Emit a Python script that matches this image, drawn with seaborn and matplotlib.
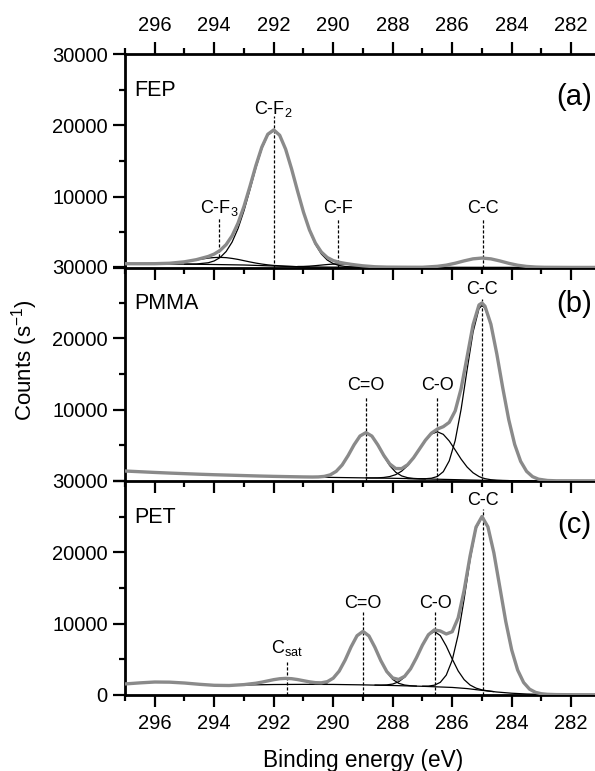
import matplotlib
matplotlib.use("Agg")
import matplotlib.pyplot as plt
import seaborn as sns
from matplotlib.ticker import MultipleLocator

# ---------------- data (eV / counts s^-1) ----------------

# (a) FEP
fep_e = [297, 296.5, 296, 295.5, 295, 294.6, 294.2, 294.0, 293.8, 293.6, 293.4, 293.2,
         293.0, 292.8, 292.6, 292.4, 292.2, 292.0, 291.8, 291.6, 291.4, 291.2, 291.0,
         290.8, 290.6, 290.4, 290.2, 290.0, 289.8, 289.6, 289.4, 289.2, 289.0, 288.6,
         288.2, 287.5, 287.0, 286.5, 286.2, 285.9, 285.6, 285.3, 285.0, 284.7, 284.4,
         284.1, 283.8, 283.5, 283.2, 282.9, 282.0, 281.0]
fep_env = [600, 600, 605, 665, 870, 1170, 1620, 1960, 2475, 3280, 4510, 6290,
           8640, 11430, 14360, 16950, 18750, 19360, 18610, 16655, 13890, 10800, 7830,
           5350, 3500, 2240, 1470, 1040, 800, 645, 515, 405, 305, 175,
           125, 108, 105, 234, 400, 668, 999, 1283, 1395, 1280, 993,
           658, 388, 219, 135, 100, 82, 80]
fep_bg_e = [297, 295, 294, 293, 292, 291, 290, 288, 285, 281]
fep_bg = [600, 540, 490, 420, 280, 160, 120, 110, 95, 80]
fep_cf3_e = [296.0, 295.5, 295.0, 294.6, 294.2, 294.0, 293.8, 293.6, 293.4, 293.2, 293.0,
             292.8, 292.6, 292.4, 292.2, 292.0, 291.6, 291.2, 290.8]
fep_cf3 = [603, 665, 865, 1131, 1388, 1466, 1490, 1452, 1344, 1203, 1027,
           850, 689, 552, 443, 360, 255, 189, 152]
fep_cf2_e = [295.0, 294.6, 294.2, 294.0, 293.8, 293.6, 293.4, 293.2, 293.0, 292.8, 292.6,
             292.4, 292.2, 292.0, 291.8, 291.6, 291.4, 291.2, 291.0, 290.8, 290.6, 290.4,
             290.2, 290.0, 289.8, 289.6, 289.4, 289.0]
fep_cf2 = [545, 564, 736, 992, 1475, 2313, 3632, 5538, 8030, 10972, 14034,
           16736, 18618, 19280, 18566, 16632, 13878, 10764, 7770, 5242, 3314, 1966,
           1113, 615, 349, 218, 157, 120]
fep_cf_e = [291.2, 291.0, 290.8, 290.6, 290.4, 290.2, 290.0, 289.8, 289.6, 289.4, 289.2,
            289.0, 288.8, 288.6, 288.4, 288.2]
fep_cf = [214, 221, 264, 329, 409, 488, 546, 569, 544, 477, 389, 299, 226, 174, 142, 124]
fep_cc_e = [287.0, 286.5, 286.2, 285.9, 285.6, 285.3, 285.0, 284.7, 284.4, 284.1, 283.8,
            283.5, 283.2, 282.9]
fep_cc = [105, 234, 400, 668, 999, 1283, 1395, 1280, 993, 658, 388, 219, 135, 100]
fep_lab = ["C-F$_3$", "C-F$_2$", "C-F", "C-C"]
fep_pos = [293.83, 292.0, 289.85, 284.97]
fep_top = [6950, 21300, 6900, 6950]
fep_bot = [1500, 0, 0, 0]
fep_txt = [7650, 21650, 7650, 7650]

# (b) PMMA
pmma_e = [297, 296.5, 296, 295.5, 295, 294.5, 294, 293.5, 293, 292.5, 292, 291.5, 291,
          290.7, 290.5, 290.3, 290.1, 289.9, 289.7, 289.5, 289.3, 289.1, 288.9,
          288.7, 288.5, 288.3, 288.1, 287.9, 287.7, 287.5, 287.3, 287.1, 286.9,
          286.7, 286.5, 286.3, 286.1, 285.9, 285.7, 285.5, 285.3, 285.1, 285.0,
          284.9, 284.7, 284.5, 284.3, 284.1, 283.9, 283.7, 283.5, 283.3, 283.1,
          282.8, 282.5, 282, 281.5, 281]
pmma_env = [1400, 1300, 1200, 1110, 1030, 950, 880, 820, 760, 700, 650, 610, 573,
            559, 573, 647, 863, 1353, 2247, 3563, 5068, 6307, 6787,
            6295, 5057, 3589, 2388, 1750, 1736, 2276, 3257, 4488, 5723,
            6699, 7282, 7617, 8224, 9831, 12971, 17399, 21894, 24679, 24956,
            24511, 21980, 17797, 13024, 8608, 5128, 2761, 1353, 610, 258,
            73, 28, 25, 22, 20]
pmma_bg_e = [297, 296, 295, 294, 293, 292, 291, 290, 289, 288, 287, 286, 285, 284, 283, 281]
pmma_bg = [1400, 1200, 1030, 880, 760, 650, 570, 500, 440, 380, 300, 200, 100, 50, 30, 20]
pmma_co2_e = [290.5, 290.3, 290.1, 289.9, 289.7, 289.5, 289.3, 289.1, 288.9, 288.7, 288.5,
              288.3, 288.1, 287.9, 287.7, 287.5, 287.3, 287.1, 286.9]
pmma_co2 = [573, 647, 863, 1353, 2247, 3563, 5068, 6307, 6784, 6283, 5020,
            3491, 2151, 1231, 712, 466, 362, 318, 292]
pmma_co_e = [288.9, 288.7, 288.5, 288.3, 288.1, 287.9, 287.7, 287.5, 287.3, 287.1, 286.9,
             286.7, 286.5, 286.3, 286.1, 285.9, 285.7, 285.5, 285.3, 285.1, 285.0,
             284.9, 284.7, 284.5, 284.3, 284.1]
pmma_co = [437, 434, 447, 496, 623, 891, 1380, 2149, 3217, 4471, 5690,
           6581, 6900, 6541, 5610, 4353, 3063, 1959, 1154, 629, 456,
           331, 180, 107, 74, 58]
pmma_cc_e = [287.5, 287.3, 287.1, 286.9, 286.7, 286.5, 286.3, 286.1, 285.9, 285.7, 285.5,
             285.3, 285.1, 285.0, 284.9, 284.7, 284.5, 284.3, 284.1, 283.9, 283.7,
             283.5, 283.3, 283.1, 282.8, 282.5]
pmma_cc = [341, 326, 315, 321, 388, 632, 1306, 2824, 5668, 10078, 15590,
           20870, 24160, 24600, 24274, 21882, 17760, 13012, 8604, 5128, 2761,
           1353, 610, 258, 73, 28]
pmma_lab = ["C=O", "C-O", "C-C"]
pmma_pos = [288.9, 286.5, 285.0]
pmma_top = [11800, 11800, 25550]
pmma_bot = [0, 0, 0]
pmma_txt = [12700, 12700, 26250]

# (c) PET
pet_e = [297, 296.5, 296, 295.5, 295, 294.5, 294, 293.5, 293,
         292.6, 292.4, 292.2, 292.0, 291.8, 291.6, 291.4, 291.2, 291.0,
         290.8, 290.6, 290.4, 290.2, 290.0, 289.8, 289.6, 289.4, 289.2, 289.0,
         288.8, 288.6, 288.4, 288.2, 288.0, 287.8, 287.6, 287.4, 287.2, 287.0,
         286.8, 286.6, 286.4, 286.2, 286.0, 285.8, 285.6, 285.4, 285.2, 285.0,
         284.8, 284.6, 284.4, 284.2, 284.0, 283.8, 283.6, 283.4, 283.2, 283.0,
         282.8, 282.5, 282, 281]
pet_env = [1550, 1700, 1820, 1800, 1680, 1500, 1360, 1330, 1456,
           1652, 1800, 1975, 2151, 2279, 2330, 2286, 2166, 2005,
           1846, 1731, 1710, 1869, 2358, 3348, 4890, 6747, 8310, 8920,
           8283, 6696, 4823, 3289, 2390, 2179, 2617, 3672, 5240, 6998,
           8449, 9124, 8974, 8553, 8871, 10810, 14660, 19470, 23536, 25018,
           23569, 19935, 15130, 10310, 6310, 3493, 1757, 820, 370, 175,
           94, 55, 40, 30]
pet_bg_e = [297, 296.5, 296, 295.5, 295, 294.5, 294, 293.5, 293, 292, 291, 290, 289, 288,
            287, 286, 285.5, 285, 284.5, 284, 283.5, 283, 282, 281]
pet_bg = [1550, 1700, 1820, 1800, 1680, 1500, 1360, 1330, 1400, 1470, 1490, 1480, 1420, 1330,
          1220, 1060, 900, 650, 420, 250, 140, 80, 40, 30]
pet_sat_e = [293.0, 292.8, 292.6, 292.4, 292.2, 292.0, 291.8, 291.6, 291.4, 291.2, 291.0,
             290.8, 290.6, 290.4, 290.2]
pet_sat = [1456, 1535, 1652, 1799, 1975, 2151, 2279, 2330, 2286, 2166, 2005,
           1839, 1702, 1603, 1540]
pet_co2_e = [290.8, 290.6, 290.4, 290.2, 290.0, 289.8, 289.6, 289.4, 289.2, 289.0, 288.8,
             288.6, 288.4, 288.2, 288.0, 287.8, 287.6, 287.4, 287.2]
pet_co2 = [1497, 1519, 1595, 1813, 2334, 3339, 4890, 6747, 8310, 8920, 8282,
           6691, 4804, 3221, 2184, 1639, 1397, 1297, 1251]
pet_co_e = [288.6, 288.4, 288.2, 288.0, 287.8, 287.6, 287.4, 287.2, 287.0, 286.8, 286.6,
            286.4, 286.2, 286.0, 285.8, 285.6, 285.4, 285.2, 285.0, 284.8, 284.6]
pet_co = [1393, 1389, 1418, 1536, 1850, 2510, 3642, 5230, 6983, 8388, 8910,
          8328, 6859, 5046, 3374, 2160, 1400, 966, 718, 579, 475]
pet_cc_e = [287.0, 286.8, 286.6, 286.4, 286.2, 286.0, 285.8, 285.6, 285.4, 285.2, 285.0,
            284.8, 284.6, 284.4, 284.2, 284.0, 283.8, 283.6, 283.4, 283.2, 283.0, 282.8, 282.5]
pet_cc = [1235, 1251, 1374, 1776, 2790, 4885, 8436, 13440, 18930, 23330, 24950,
          23550, 19930, 15130, 10310, 6310, 3493, 1757, 820, 370, 175, 94, 55]
pet_lab = ["C$_{sat}$", "C=O", "C-O", "C-C"]
pet_pos = [291.55, 289.0, 286.57, 284.98]
pet_top = [4650, 11650, 11650, 26100]
pet_bot = [0, 0, 0, 0]
pet_txt = [5830, 12150, 12150, 26570]

names = ["FEP", "PMMA", "PET"]
letters = ["(a)", "(b)", "(c)"]
letter_y = [0.80, 0.825, 0.795]
y_ticks = [0, 10000, 20000, 30000]
x_ticks = [282, 284, 286, 288, 290, 292, 294, 296]

# ---------------- style ----------------
sns.set_theme(style="ticks")
plt.rcParams["font.family"] = ["Liberation Sans", "DejaVu Sans"]
plt.rcParams["mathtext.default"] = "regular"
plt.rcParams["axes.linewidth"] = 2.0
plt.rcParams["text.color"] = "black"
plt.rcParams["axes.labelcolor"] = "black"
plt.rcParams["xtick.color"] = "black"
plt.rcParams["ytick.color"] = "black"

GRAY = "#8a8a8a"

fig = plt.figure(figsize=(5.95, 7.71), dpi=100)
left, width, height = 125 / 595, 470 / 595, 214 / 771
bottoms = [(771 - 268) / 771, (771 - 481) / 771, (771 - 695) / 771]

panels = [
    (fep_e, fep_env, fep_bg_e, fep_bg,
     [(fep_cf3_e, fep_cf3), (fep_cf2_e, fep_cf2), (fep_cf_e, fep_cf), (fep_cc_e, fep_cc)],
     fep_lab, fep_pos, fep_top, fep_bot, fep_txt),
    (pmma_e, pmma_env, pmma_bg_e, pmma_bg,
     [(pmma_co2_e, pmma_co2), (pmma_co_e, pmma_co), (pmma_cc_e, pmma_cc)],
     pmma_lab, pmma_pos, pmma_top, pmma_bot, pmma_txt),
    (pet_e, pet_env, pet_bg_e, pet_bg,
     [(pet_sat_e, pet_sat), (pet_co2_e, pet_co2), (pet_co_e, pet_co), (pet_cc_e, pet_cc)],
     pet_lab, pet_pos, pet_top, pet_bot, pet_txt),
]

for i, (e, env, bg_e, bg, comps, labs, pos, top, bot, txt) in enumerate(panels):
    ax = fig.add_axes([left, bottoms[i], width, height])
    ax.set_facecolor("none")

    ax.vlines(pos, bot, top, colors="black", linestyles=(0, (2.5, 1.5)), lw=0.9, zorder=1)
    sns.lineplot(x=bg_e, y=bg, ax=ax, color="black", lw=0.9, sort=False, estimator=None, zorder=2)
    for ce, cv in comps:
        sns.lineplot(x=ce, y=cv, ax=ax, color="black", lw=0.9, sort=False, estimator=None, zorder=2)
    sns.lineplot(x=e, y=env, ax=ax, color=GRAY, lw=2.4, sort=False, estimator=None, zorder=3)

    for lab, p, t in zip(labs, pos, txt):
        ax.text(p, t, lab, ha="center", va="baseline", fontsize=13, color="black")

    ax.text(0.019, 0.83, names[i], transform=ax.transAxes, ha="left", va="center",
            fontsize=15.5, color="black")
    ax.text(0.993, letter_y[i], letters[i], transform=ax.transAxes, ha="right", va="center",
            fontsize=21, color="black")

    ax.set_xlim(297, 281.2)
    ax.set_ylim(0, 30000)
    ax.set_xlabel("")
    ax.set_ylabel("")

    ax.set_xticks(x_ticks)
    ax.xaxis.set_minor_locator(MultipleLocator(1))
    ax.set_yticks(y_ticks)
    ax.yaxis.set_minor_locator(MultipleLocator(5000))
    if i < 2:
        ax.set_yticklabels(["", "10000", "20000", "30000"])
    else:
        ax.set_yticklabels(["0", "10000", "20000", "30000"])

    ax.tick_params(axis="both", which="major", direction="out", width=1.6, length=8.5,
                   labelsize=14.5, color="black", labelcolor="black")
    ax.tick_params(axis="both", which="minor", direction="out", width=1.6, length=4.5,
                   color="black")
    ax.tick_params(axis="y", pad=4)
    ax.tick_params(axis="x", which="both", top=(i == 0), bottom=True,
                   labeltop=(i == 0), labelbottom=(i == 2), pad=5)

    ax.spines["right"].set_visible(False)
    ax.spines["top"].set_visible(i == 0)
    for s in ["left", "bottom", "top"]:
        ax.spines[s].set_color("black")
        ax.spines[s].set_linewidth(2.0)

fig.text(25 / 595, 1 - 360 / 771, "Counts (s$^{-1}$)", rotation=90,
         ha="center", va="center", fontsize=16, color="black")
fig.text(363 / 595, 1 - 760 / 771, "Binding energy (eV)", ha="center", va="center",
         fontsize=16.3, color="black")

fig.savefig("out.png", dpi=100)
